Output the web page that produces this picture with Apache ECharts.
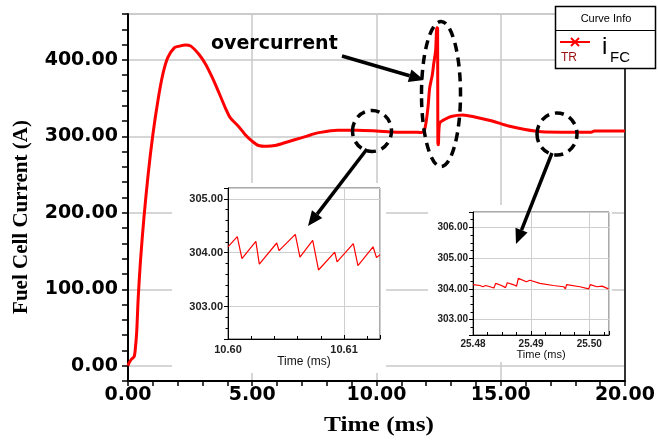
<!DOCTYPE html>
<html>
<head>
<meta charset="utf-8">
<script src="https://cdn.jsdelivr.net/npm/echarts@6/dist/echarts.min.js"></script>
<style>
  html, body { margin: 0; padding: 0; background: #fff; }
  #chart { width: 658px; height: 448px; }
</style>
</head>
<body>
<div id="chart"></div>
<script>
// main trace: time (ms) / fuel cell current (A)
const mainT = [0, 0.05, 0.15, 0.25, 0.3, 0.35, 0.41, 0.5, 0.64, 0.81, 1.0, 1.2, 1.4, 1.6, 1.87, 2.07, 2.3, 2.53,
  2.86, 3.13, 3.39, 3.66, 3.92, 4.12, 4.45, 4.72, 4.98, 5.25, 5.58, 5.91, 6.44, 6.97, 7.37, 7.63, 8.43, 9.22,
  10.0, 10.8, 11.48, 11.81, 11.94, 12.07, 12.14, 12.25, 12.3, 12.38, 12.43, 12.46, 12.47, 12.49, 12.54,
  12.74, 13.0, 13.47, 14.0, 14.66, 15.32, 15.98, 16.65, 17.44, 18.64, 18.77, 20.0];
const mainI = [0, 4, 9, 12, 24, 44, 88, 136, 193, 250, 302, 346, 381, 403, 416, 418, 419.5, 418,
  407, 394, 377, 357, 337, 324, 313, 302, 294, 288, 287, 288, 293, 298, 302, 304.5, 308, 308,
  307, 305.5, 305.5, 305, 309, 337, 363, 381, 394, 412, 442, 442, 293, 289, 317,
  322, 326, 328, 325, 320, 313.5, 309, 306, 305.5, 305.5, 307, 307];

// zoomed window near 10.6 ms
const zoom1T = [10.6, 10.6008, 10.6012, 10.6024, 10.6027, 10.6042, 10.6044, 10.6058, 10.6062, 10.6073,
  10.6078, 10.6092, 10.6094, 10.6108, 10.6112, 10.6125, 10.6128, 10.6131];
const zoom1I = [304.11, 304.30, 303.89, 304.21, 303.79, 304.18, 304.04, 304.34, 303.92, 304.23,
  303.68, 304.01, 303.83, 304.17, 303.76, 304.11, 303.91, 303.96];

// zoomed window near 25.49 ms
const zoom2T = [25.48, 25.4812, 25.4817, 25.4822, 25.4829, 25.4836, 25.4839, 25.4849, 25.4856, 25.4859,
  25.4869, 25.4875, 25.4878, 25.4892, 25.4898, 25.4915, 25.4938, 25.4956, 25.4959, 25.4961,
  25.4984, 25.4999, 25.5002, 25.5013, 25.5022, 25.5033];
const zoom2I = [304.14, 304.11, 304.07, 304.11, 304.07, 304.03, 304.18, 304.11, 304.04, 304.20,
  304.14, 304.09, 304.34, 304.23, 304.28, 304.18, 304.11, 304.07, 304.00, 304.14,
  304.07, 304.00, 304.14, 304.07, 304.09, 304.00];

const legendName = "i";
const legendSub = "FC";

const pairs = (xs, ys) => xs.map((x, i) => [x, ys[i]]);
const isWhole = (v, step) => Math.abs(v / step - Math.round(v / step)) < 1e-6;

const myChart = echarts.init(document.getElementById("chart"));

// arrow (line + filled head) for annotations
const arrow = (x1, y1, x2, y2) => {
  const a = Math.atan2(y2 - y1, x2 - x1);
  const len = 15, half = 6.5;
  const bx = x2 - len * Math.cos(a), by = y2 - len * Math.sin(a);
  return [
    { type: "line", z: 10, shape: { x1: x1, y1: y1, x2: bx, y2: by },
      style: { stroke: "#000", lineWidth: 3.5 } },
    { type: "polygon", z: 10,
      shape: { points: [[x2, y2],
        [bx + half * Math.sin(a), by - half * Math.cos(a)],
        [bx - half * Math.sin(a), by + half * Math.cos(a)]] },
      style: { fill: "#000" } },
  ];
};

const dashedEllipse = (cx, cy, rx, ry) => ({
  type: "ellipse", z: 10, shape: { cx: cx, cy: cy, rx: rx, ry: ry },
  style: { fill: null, stroke: "#000", lineWidth: 3.5, lineDash: [9, 6] },
});

const mainLabel = { color: "#000", fontFamily: "DejaVu Sans", fontWeight: "bold", fontSize: 19 };
const insetLabel = (size) => ({ color: "#222", fontFamily: "Liberation Sans", fontWeight: "bold", fontSize: size });

const insetX = (idx, min, max, size, margin, gap) => ({
  type: "value", gridIndex: idx, min: min, max: max, interval: 0.01, z: 3,
  name: "Time (ms)", nameLocation: "middle", nameGap: gap,
  nameTextStyle: { color: "#111", fontFamily: "Liberation Sans", fontSize: size + 1 },
  axisLine: { onZero: false, lineStyle: { color: "#000", width: 1 } },
  axisTick: { inside: true, length: 4, lineStyle: { color: "#000" } },
  minorTick: { show: true, splitNumber: idx === 1 ? 5 : 4, length: 3, lineStyle: { color: "#000" } },
  splitLine: { show: true, lineStyle: { color: "#cfcfcf", width: 1 } },
  axisLabel: Object.assign({ margin: margin, showMaxLabel: false,
    formatter: (v) => (isWhole(v, 0.01) ? v.toFixed(2) : "") }, insetLabel(size)),
});

const insetY = (idx, min, max, split, minorSplit, size) => ({
  type: "value", gridIndex: idx, min: min, max: max, splitNumber: split, z: 3,
  axisLine: { show: true, onZero: false, lineStyle: { color: "#000", width: 1 } },
  axisTick: { length: 4, lineStyle: { color: "#000" } },
  minorTick: { show: true, splitNumber: minorSplit, length: 2.5, lineStyle: { color: "#000" } },
  splitLine: { show: true, lineStyle: { color: "#cfcfcf", width: 1 } },
  axisLabel: Object.assign({ margin: 5, showMinLabel: false, showMaxLabel: false,
    formatter: (v) => (isWhole(v, 1) ? v.toFixed(2) : "") }, insetLabel(size)),
});

const option = {
  backgroundColor: "#fff",
  animation: false,
  grid: [
    { left: 128, top: 14, width: 503, height: 367, show: true, borderColor: "#aaa", borderWidth: 1 },
    { left: 228, top: 188, width: 152, height: 151, show: true, z: 2,
      backgroundColor: "#fff", borderColor: "#555", borderWidth: 1 },
    { left: 473, top: 212, width: 136, height: 123, show: true, z: 2,
      backgroundColor: "#fff", borderColor: "#555", borderWidth: 1 },
  ],
  xAxis: [
    {
      type: "value", gridIndex: 0, min: 0, max: 20, interval: 5,
      axisLine: { onZero: false, lineStyle: { color: "#000", width: 2 } },
      axisTick: { length: 5, lineStyle: { color: "#000", width: 1.5 } },
      minorTick: { show: true, splitNumber: 5, length: 5, lineStyle: { color: "#000", width: 1.5 } },
      splitLine: { show: true, lineStyle: { color: "#c8c8c8", width: 1.5 } },
      axisLabel: Object.assign({ margin: 5, formatter: (v) => v.toFixed(2) }, mainLabel),
    },
    insetX(1, 10.6, 10.6131, 11, 5, 17),
    insetX(2, 25.48, 25.5034, 10, 4, 12),
  ],
  yAxis: [
    {
      type: "value", gridIndex: 0, min: -20, max: 460, splitNumber: 5,
      axisLine: { show: true, onZero: false, lineStyle: { color: "#000", width: 2 } },
      axisTick: { length: 6, lineStyle: { color: "#000", width: 1.5 } },
      minorTick: { show: true, splitNumber: 5, length: 6, lineStyle: { color: "#000", width: 1.5 } },
      splitLine: { show: true, lineStyle: { color: "#c8c8c8", width: 1.5 } },
      axisLabel: Object.assign({ margin: 10, showMinLabel: false, showMaxLabel: false,
        formatter: (v) => (isWhole(v, 100) ? v.toFixed(2) : "") }, mainLabel),
    },
    {
      type: "value", gridIndex: 0, min: -20, max: 460, position: "right",
      axisLine: { show: true, onZero: false, lineStyle: { color: "#000", width: 1.5 } },
      axisTick: { show: false }, axisLabel: { show: false }, splitLine: { show: false },
    },
    insetY(1, 302.4, 305.2, 3, 5, 11),
    insetY(2, 302.5, 306.5, 4, 4, 10),
  ],
  series: [
    {
      name: "iFC", type: "line", xAxisIndex: 0, yAxisIndex: 0,
      data: pairs(mainT, mainI), showSymbol: false, smooth: 0.3,
      lineStyle: { color: "#ff0000", width: 3 },
    },
    {
      name: "zoom1", type: "line", xAxisIndex: 1, yAxisIndex: 2, z: 4,
      data: pairs(zoom1T, zoom1I), showSymbol: false,
      lineStyle: { color: "#ff0000", width: 1.2 },
    },
    {
      name: "zoom2", type: "line", xAxisIndex: 2, yAxisIndex: 3, z: 4,
      data: pairs(zoom2T, zoom2I), showSymbol: false,
      lineStyle: { color: "#ff0000", width: 1.2 },
    },
  ],
  graphic: {
    elements: [
      // white panels behind the insets
      { type: "rect", z: 1, shape: { x: 172, y: 183, width: 214, height: 190 }, style: { fill: "#fff" } },
      { type: "rect", z: 1, shape: { x: 428, y: 205, width: 184, height: 157 }, style: { fill: "#fff" } },
      // axis titles
      { type: "text", z: 5, x: 379, y: 425, scaleX: 1.15,
        style: { text: "Time (ms)", fill: "#000", font: "bold 22px 'Liberation Serif'",
          textAlign: "center", textVerticalAlign: "middle" } },
      { type: "text", z: 5, x: 22, y: 217, rotation: Math.PI / 2,
        style: { text: "Fuel Cell Current (A)", fill: "#000", font: "bold 21px 'Liberation Serif'",
          textAlign: "center", textVerticalAlign: "middle" } },
      // annotations
      { type: "text", z: 10, x: 211, y: 44,
        style: { text: "overcurrent", fill: "#000", font: "bold 19px 'DejaVu Sans'",
          textAlign: "left", textVerticalAlign: "middle" } },
      dashedEllipse(441, 94, 19.5, 72.5),
      dashedEllipse(372, 131, 19.5, 20.5),
      dashedEllipse(557, 134, 20, 21),
      ...arrow(342, 56, 424, 80),
      ...arrow(367, 149, 308, 226),
      ...arrow(552, 153, 516, 244),
      // curve info box
      { type: "rect", z: 10, shape: { x: 555.5, y: 6.5, width: 100, height: 62 },
        style: { fill: "#fff", stroke: "#000", lineWidth: 1.5 } },
      { type: "line", z: 10, shape: { x1: 556, y1: 30.5, x2: 655, y2: 30.5 },
        style: { stroke: "#000", lineWidth: 1 } },
      { type: "text", z: 11, x: 606, y: 18.5,
        style: { text: "Curve Info", fill: "#000", font: "11px 'Liberation Sans'",
          textAlign: "center", textVerticalAlign: "middle" } },
      { type: "line", z: 11, shape: { x1: 560, y1: 42, x2: 590, y2: 42 },
        style: { stroke: "#ff0000", lineWidth: 2 } },
      { type: "line", z: 11, shape: { x1: 571, y1: 38, x2: 579, y2: 46 },
        style: { stroke: "#ff0000", lineWidth: 2 } },
      { type: "line", z: 11, shape: { x1: 571, y1: 46, x2: 579, y2: 38 },
        style: { stroke: "#ff0000", lineWidth: 2 } },
      { type: "text", z: 11, x: 561, y: 58,
        style: { text: "TR", fill: "#9a1010", font: "12px 'Liberation Sans'",
          textAlign: "left", textVerticalAlign: "middle" } },
      { type: "text", z: 11, x: 602, y: 47,
        style: { text: legendName, fill: "#000", font: "24px 'Liberation Sans'",
          textAlign: "left", textVerticalAlign: "middle" } },
      { type: "text", z: 11, x: 610, y: 58,
        style: { text: legendSub, fill: "#000", font: "15px 'Liberation Sans'",
          textAlign: "left", textVerticalAlign: "middle" } },
    ],
  },
};

myChart.setOption(option);
</script>
</body>
</html>
